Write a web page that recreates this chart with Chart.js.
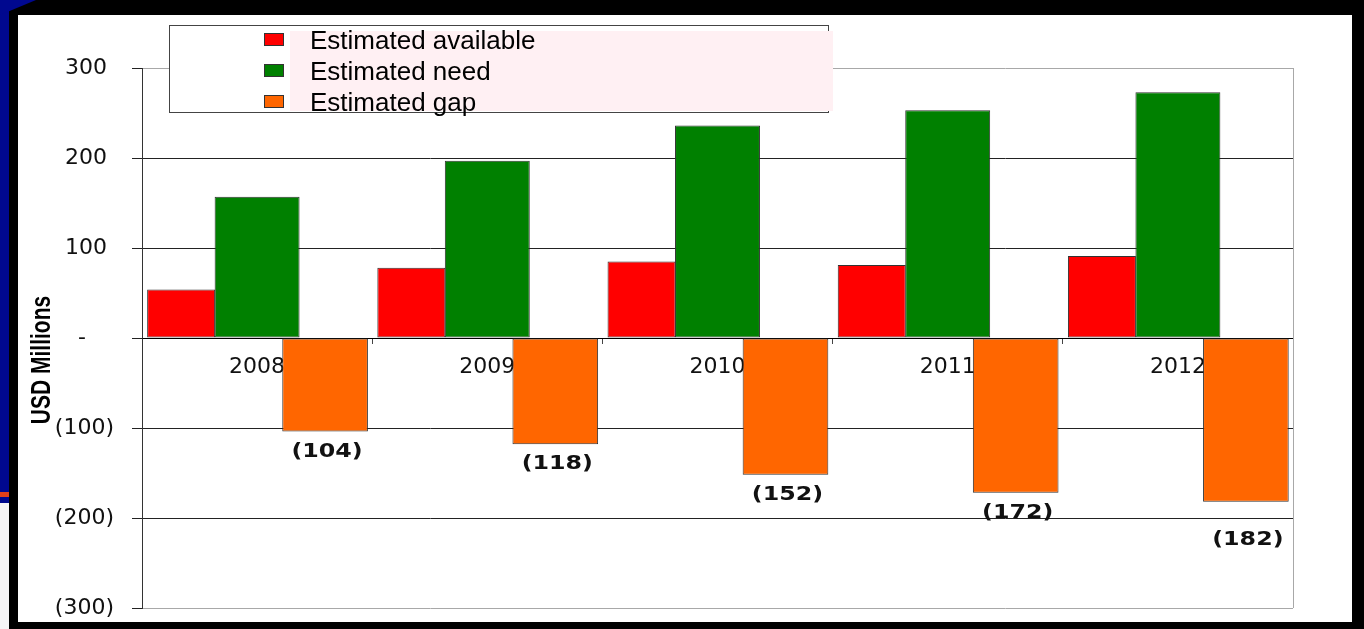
<!DOCTYPE html>
<html>
<head>
<meta charset="utf-8">
<script src="https://cdn.jsdelivr.net/npm/chart.js@4.4.0/dist/chart.umd.min.js"></script>
<style>
  body{margin:0;background:#000;width:1364px;height:629px;overflow:hidden;position:relative}
  #blue{position:absolute;left:0;top:0;width:9px;height:503px;background:#00088f}
  #wedge{position:absolute;left:0;top:0;width:36px;height:15px;background:#00088f;clip-path:polygon(0 0,100% 0,0 100%)}
  #stripe{position:absolute;left:0;top:492px;width:9px;height:5px;background:#e2401a}
  #pale{position:absolute;left:0;top:503px;width:9px;height:126px;background:#f6f4f6}
  #panel{position:absolute;left:18px;top:15px;width:1334px;height:607px;background:#fff}
  #chart{position:absolute;left:0;top:0}
</style>
</head>
<body>
<div id="blue"></div><div id="wedge"></div><div id="stripe"></div><div id="pale"></div>
<div id="panel"></div>
<canvas id="chart" width="1364" height="629"></canvas>
<script>
var years = ['2008', '2009', '2010', '2011', '2012'];
var available = [54, 78, 85, 81, 91];
var need = [157, 197, 236, 253, 273];
var gap = [-104, -118, -152, -172, -182];
var seriesNames = ['Estimated available', 'Estimated need', 'Estimated gap'];
var seriesColors = ['#ff0000', '#008000', '#ff6600'];
var yTitle = 'USD Millions';

// excel style number format: 300 / - / (100)
function fmt(v){
  if (v === 0) return '-    ';
  if (v < 0) return '(' + (-v) + ')';
  return v + ' ';
}

// gray right edge of the plot
var frame = {
  id: 'frame',
  beforeDatasetsDraw: function(chart){
    var a = chart.chartArea, ctx = chart.ctx;
    ctx.save();
    ctx.strokeStyle = '#a8a8a8';
    ctx.lineWidth = 1;
    ctx.beginPath();
    ctx.moveTo(Math.round(a.right) + 0.5, a.top);
    ctx.lineTo(Math.round(a.right) + 0.5, a.bottom);
    ctx.stroke();
    ctx.restore();
  }
};

// (104) labels under the gap bars
var gapLabels = {
  id: 'gapLabels',
  afterDatasetsDraw: function(chart){
    var ctx = chart.ctx;
    var meta = chart.getDatasetMeta(2);
    var drop = [20, 20, 20, 20, 38];
    ctx.save();
    ctx.font = 'bold 19px "DejaVu Sans"';
    ctx.fillStyle = '#111';
    ctx.textAlign = 'center';
    ctx.textBaseline = 'middle';
    meta.data.forEach(function(bar, i){
      ctx.save();
      ctx.translate(bar.x + 2, bar.y + drop[i]);
      ctx.scale(1.25, 1);
      ctx.fillText(fmt(gap[i]), 0, 0);
      ctx.restore();
    });
    ctx.restore();
  }
};

// rotated axis title + boxed legend
var extras = {
  id: 'extras',
  afterDraw: function(chart){
    var ctx = chart.ctx;
    ctx.save();
    ctx.translate(42, 360);
    ctx.rotate(-Math.PI / 2);
    ctx.scale(1, 1.3);
    ctx.font = 'bold 21px "Liberation Sans"';
    ctx.fillStyle = '#000';
    ctx.textAlign = 'center';
    ctx.textBaseline = 'middle';
    ctx.fillText(yTitle, 0, 0);
    ctx.restore();

    ctx.save();
    ctx.fillStyle = '#fff';
    ctx.fillRect(169, 25, 659, 87);
    ctx.strokeStyle = '#444';
    ctx.lineWidth = 1;
    ctx.strokeRect(169.5, 25.5, 659, 87);
    ctx.fillStyle = '#fff0f3';
    ctx.fillRect(290, 31, 543, 80);
    ctx.font = '26px "Liberation Sans"';
    ctx.textBaseline = 'middle';
    for (var i = 0; i < seriesNames.length; i++){
      var y = 41 + i * 31;
      ctx.fillStyle = seriesColors[i];
      ctx.fillRect(264, y - 8, 20, 13);
      ctx.strokeStyle = '#333';
      ctx.strokeRect(264.5, y - 7.5, 19, 12);
      ctx.fillStyle = '#000';
      ctx.fillText(seriesNames[i], 310, y + 1);
    }
    ctx.restore();
  }
};

var ctx = document.getElementById('chart').getContext('2d');
var myChart = new Chart(ctx, {
  type: 'bar',
  data: {
    labels: years,
    datasets: [
      {
        label: seriesNames[0], data: available,
        backgroundColor: seriesColors[0], borderColor: '#333', borderWidth: 1, borderSkipped: false,
        categoryPercentage: 0.99, barPercentage: 0.895
      },
      {
        label: seriesNames[1], data: need,
        backgroundColor: seriesColors[1], borderColor: '#333', borderWidth: 1, borderSkipped: false,
        categoryPercentage: 0.9, barPercentage: 1.23
      },
      {
        label: seriesNames[2], data: gap,
        backgroundColor: seriesColors[2], borderColor: '#333', borderWidth: 1, borderSkipped: false,
        categoryPercentage: 0.886, barPercentage: 1.26
      }
    ]
  },
  options: {
    responsive: false,
    animation: false,
    devicePixelRatio: 1,
    layout: { padding: { left: 10, top: 68, right: 71, bottom: 21 } },
    plugins: {
      legend: { display: false },
      tooltip: { enabled: false }
    },
    scales: {
      x: {
        position: { y: 0 },
        offset: true,
        grid: { offset: true, drawOnChartArea: false, tickLength: 5, color: '#444' },
        border: { color: '#000' },
        ticks: { color: '#111', font: { family: 'DejaVu Sans', size: 22 }, padding: 11 },
        afterFit: function(s){ s.height = 0; }
      },
      y: {
        min: -300,
        max: 300,
        ticks: {
          stepSize: 100,
          callback: fmt,
          color: '#111',
          font: { family: 'DejaVu Sans', size: 22 },
          padding: 18
        },
        grid: {
          color: function(c){
            var v = c.tick && c.tick.value;
            return (v === 300 || v === -300) ? '#a8a8a8' : '#222';
          },
          tickColor: '#222',
          tickLength: 10
        },
        border: { color: '#333' },
        afterFit: function(s){
          s.width = 132;
          s.paddingTop = 0;
          s.paddingBottom = 0;
        }
      }
    }
  },
  plugins: [frame, gapLabels, extras]
});
</script>
</body>
</html>
